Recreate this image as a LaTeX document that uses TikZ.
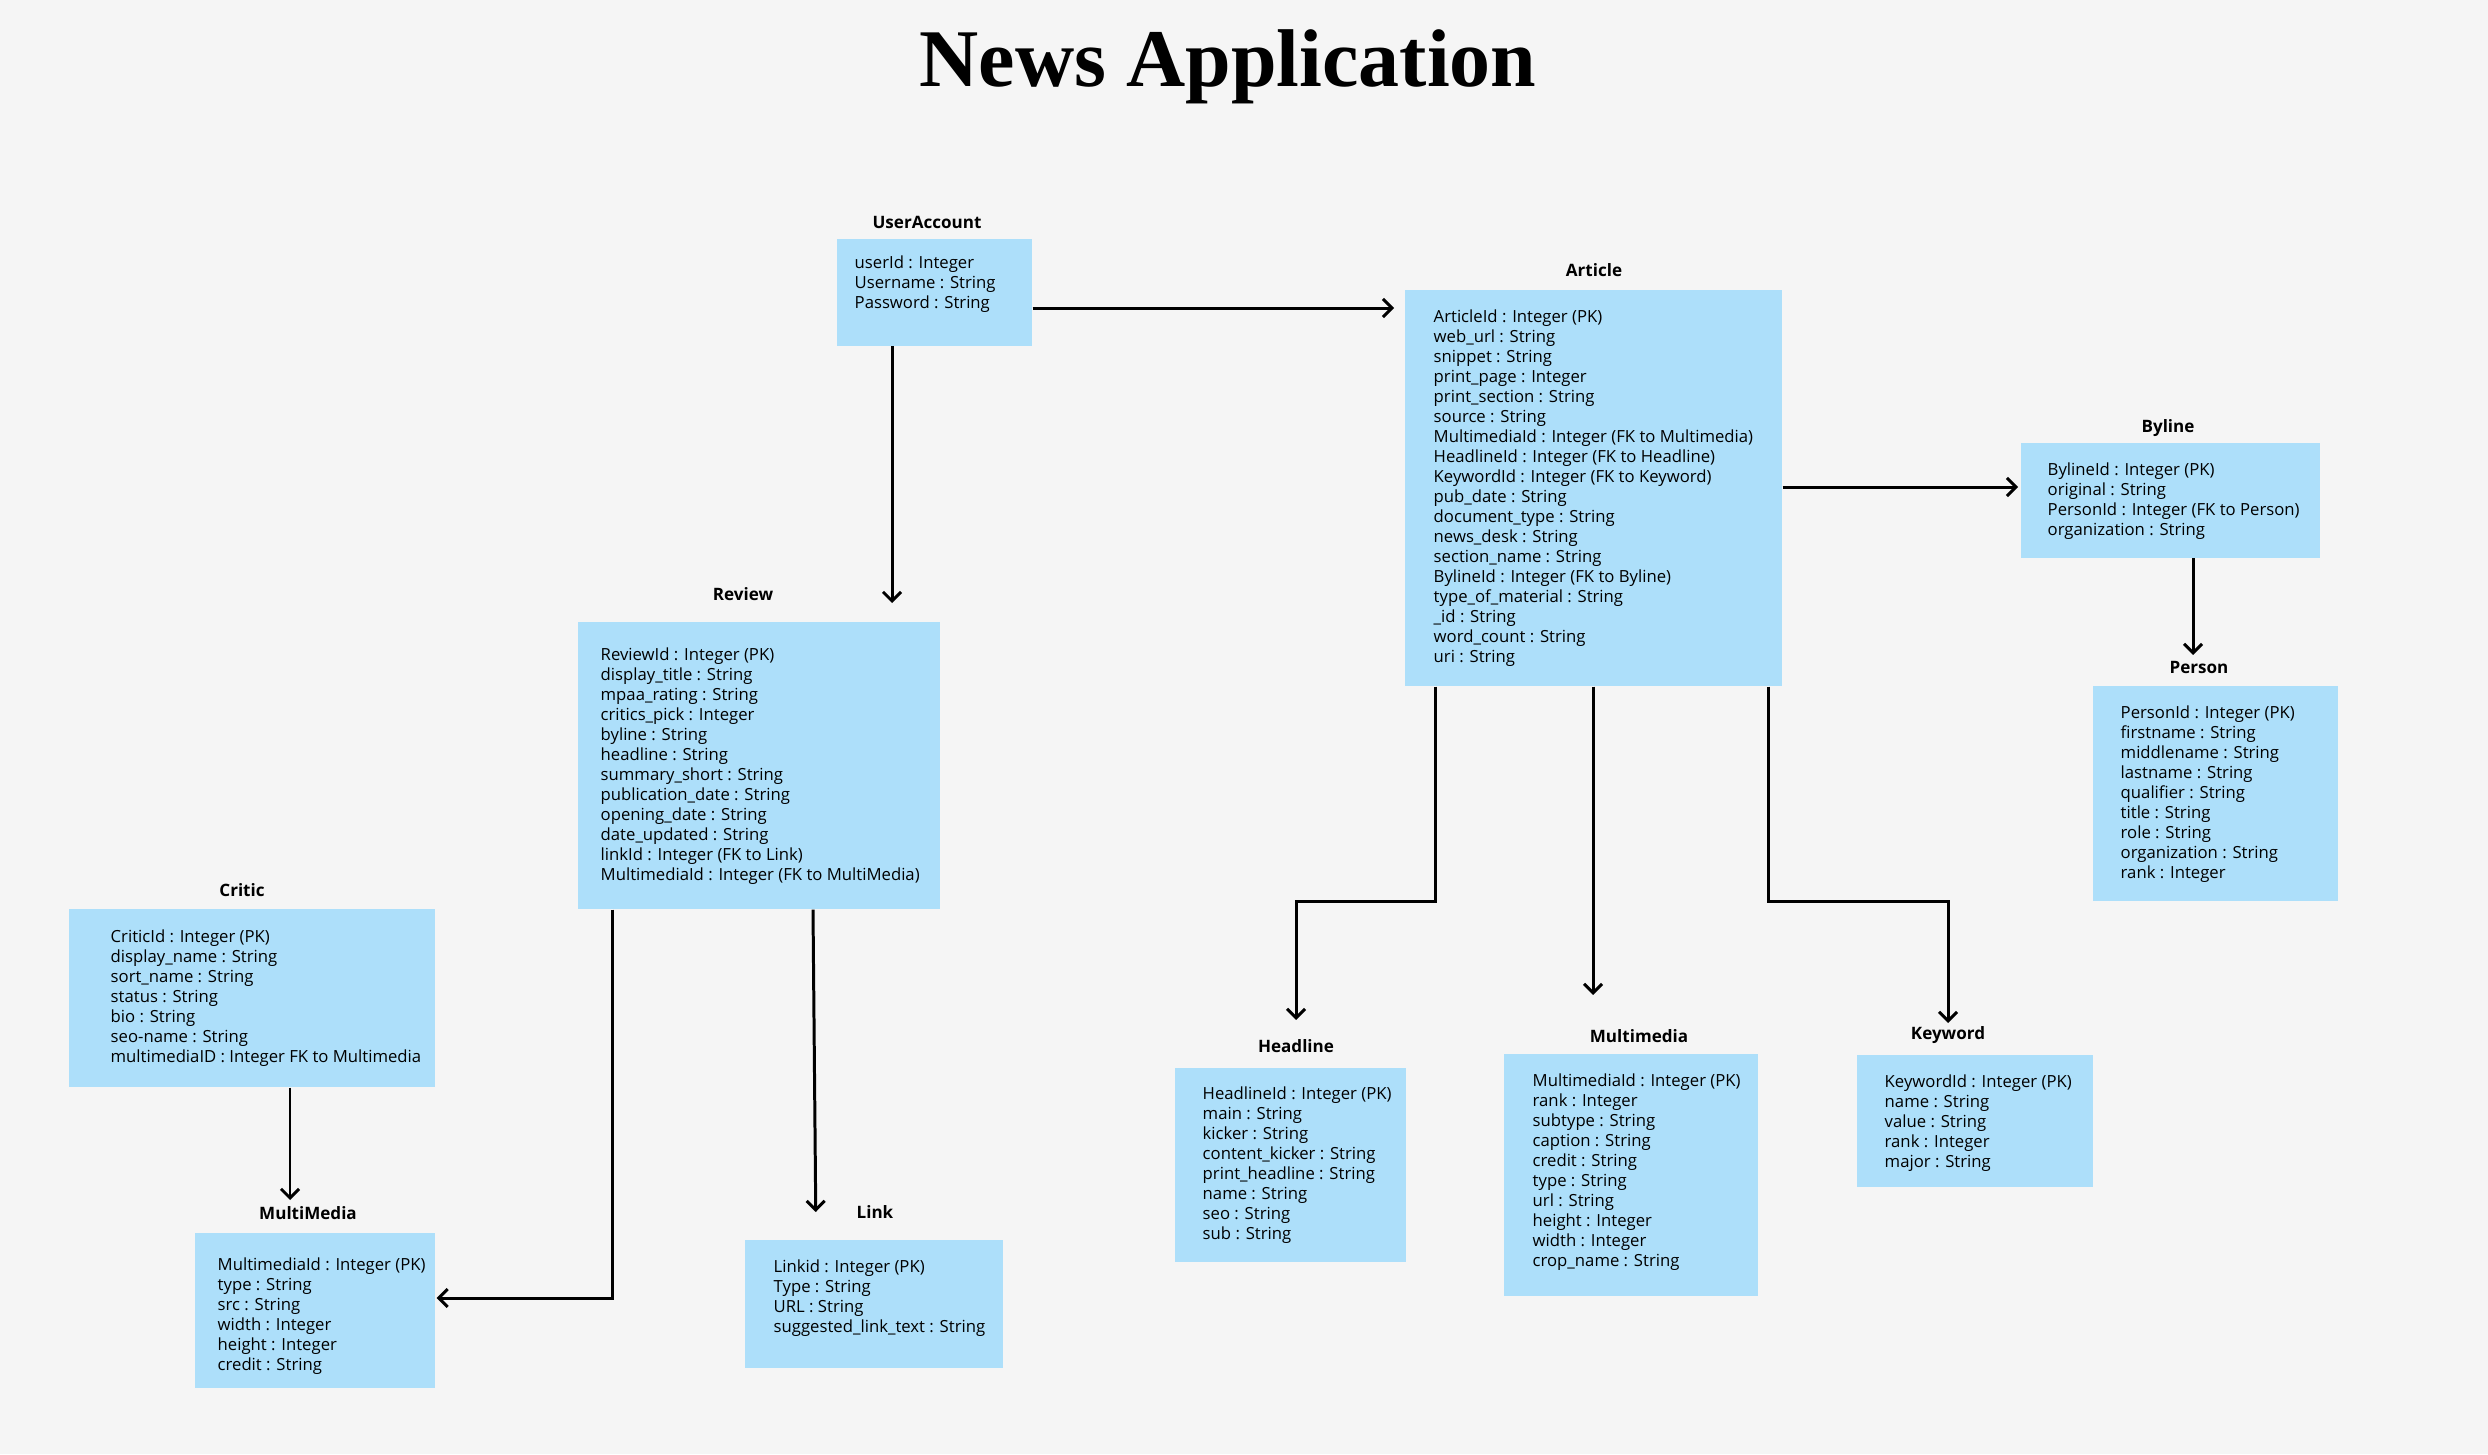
\documentclass[tikz,border=0pt]{standalone}
\usepackage{fontspec}
\setmainfont{Open Sans}
\newfontfamily\headfont{Liberation Serif}
\usetikzlibrary{arrows.meta}
\definecolor{paper}{RGB}{245,245,245}
\definecolor{tablefill}{RGB}{173,223,250}

\begin{document}
\begin{tikzpicture}[x=0.01cm, y=-0.01cm,
    entity/.style={fill=tablefill, anchor=north west, inner sep=0pt},
    tname/.style={font=\fontsize{4.85}{6}\selectfont\bfseries},
    attrs/.style={anchor=north west, inner sep=0pt, align=left, font=\fontsize{4.75}{5.69}\selectfont},
    rel/.style={line width=0.85pt, -{Straight Barb[length=0.9mm,width=1.8mm]}}]
        \fill[paper] (0,0) rectangle (2488,1454);
        \node[anchor=base, font=\headfont\bfseries\fontsize{23.3}{23.3}\selectfont] (title) at (1228,86) {News Application};

        % tables
        \node[entity, minimum width=1.95cm, minimum height=1.07cm] (user) at (836,238) {};
        \node[tname] (user-t) at (927,222) {UserAccount};
        \node[attrs] (user-a) at ([shift={(18,17)}]user.north west) {userId : Integer\\ Username : String\\ Password : String};

        \node[entity, minimum width=3.77cm, minimum height=3.96cm] (article) at (1404,289) {};
        \node[tname] (article-t) at (1594,270) {Article};
        \node[attrs] (article-a) at ([shift={(29,20)}]article.north west) {ArticleId : Integer (PK)\\ web\_url : String\\ snippet : String\\ print\_page : Integer\\ print\_section : String\\ source : String\\ MultimediaId : Integer (FK to Multimedia)\\ HeadlineId : Integer (FK to Headline)\\ KeywordId : Integer (FK to Keyword)\\ pub\_date : String\\ document\_type : String\\ news\_desk : String\\ section\_name : String\\ BylineId : Integer (FK to Byline)\\ type\_of\_material : String\\ \_id : String\\ word\_count : String\\ uri : String};

        \node[entity, minimum width=2.99cm, minimum height=1.15cm] (byline) at (2020,442) {};
        \node[tname] (byline-t) at (2168,428) {Byline};
        \node[attrs] (byline-a) at ([shift={(27,20)}]byline.north west) {BylineId : Integer (PK)\\ original : String\\ PersonId : Integer (FK to Person)\\ organization : String};

        \node[entity, minimum width=2.45cm, minimum height=2.15cm] (person) at (2092,685) {};
        \node[tname] (person-t) at (2199,667) {Person};
        \node[attrs] (person-a) at ([shift={(28,20)}]person.north west) {PersonId : Integer (PK)\\ firstname : String\\ middlename : String\\ lastname : String\\ qualifier : String\\ title : String\\ role : String\\ organization : String\\ rank : Integer};

        \node[entity, minimum width=3.62cm, minimum height=2.87cm] (review) at (577,621) {};
        \node[tname] (review-t) at (743,594) {Review};
        \node[attrs] (review-a) at ([shift={(23,26)}]review.north west) {ReviewId : Integer (PK)\\ display\_title : String\\ mpaa\_rating : String\\ critics\_pick : Integer\\ byline : String\\ headline : String\\ summary\_short : String\\ publication\_date : String\\ opening\_date : String\\ date\_updated : String\\ linkId : Integer (FK to Link)\\ MultimediaId : Integer (FK to MultiMedia)};

        \node[entity, minimum width=3.66cm, minimum height=1.78cm] (critic) at (68,908) {};
        \node[tname] (critic-t) at (242,890) {Critic};
        \node[attrs] (critic-a) at ([shift={(42,21)}]critic.north west) {CriticId : Integer (PK)\\ display\_name : String\\ sort\_name : String\\ status : String\\ bio : String\\ seo-name : String\\ multimediaID : Integer FK to Multimedia};

        \node[entity, minimum width=2.40cm, minimum height=1.55cm] (media) at (194,1232) {};
        \node[tname] (media-t) at (308,1213) {MultiMedia};
        \node[attrs] (media-a) at ([shift={(23,25)}]media.north west) {MultimediaId : Integer (PK)\\ type : String\\ src : String\\ width : Integer\\ height : Integer\\ credit : String};

        \node[entity, minimum width=2.58cm, minimum height=1.28cm] (link) at (744,1239) {};
        \node[tname] (link-t) at (875,1212) {Link};
        \node[attrs] (link-a) at ([shift={(29,20)}]link.north west) {Linkid : Integer (PK)\\ Type : String\\ URL : String\\ suggested\_link\_text : String};

        \node[entity, minimum width=2.31cm, minimum height=1.94cm] (headline) at (1174,1067) {};
        \node[tname] (headline-t) at (1296,1046) {Headline};
        \node[attrs] (headline-a) at ([shift={(28,19)}]headline.north west) {HeadlineId : Integer (PK)\\ main : String\\ kicker : String\\ content\_kicker : String\\ print\_headline : String\\ name : String\\ seo : String\\ sub : String};

        \node[entity, minimum width=2.54cm, minimum height=2.42cm] (multimedia) at (1503,1053) {};
        \node[tname] (multimedia-t) at (1639,1036) {Multimedia};
        \node[attrs] (multimedia-a) at ([shift={(29,20)}]multimedia.north west) {MultimediaId : Integer (PK)\\ rank : Integer\\ subtype : String\\ caption : String\\ credit : String\\ type : String\\ url : String\\ height : Integer\\ width : Integer\\ crop\_name : String};

        \node[entity, minimum width=2.36cm, minimum height=1.32cm] (keyword) at (1856,1054) {};
        \node[tname] (keyword-t) at (1948,1035) {Keyword};
        \node[attrs] (keyword-a) at ([shift={(28,20)}]keyword.north west) {KeywordId : Integer (PK)\\ name : String\\ value : String\\ rank : Integer\\ major : String};

        % relations
        \draw[rel, shorten >=0.1cm] (user.east |- 0,308) -- (article.west |- 0,308);
        \draw[rel, shorten >=0.18cm] (892,0 |- user.south) -- (892,0 |- review.north);
        \draw[rel, shorten >=0.02cm] (article.east |- 0,487) -- (byline.west |- 0,487);
        \draw[rel, shorten >=0.3cm] (2193,0 |- byline.south) -- (2193,0 |- person.north);
        \draw[rel, shorten >=0.47cm] (1435,0 |- article.south) -- (1435,901) -- (1296,901) -- (1296,0 |- headline.north);
        \draw[rel, shorten >=0.58cm] (1593,0 |- article.south) -- (1593,0 |- multimedia.north);
        \draw[rel, shorten >=0.31cm] (1768,0 |- article.south) -- (1768,901) -- (1948,901) -- (1948,0 |- keyword.north);
        \draw[rel, shorten >=0.01cm] (612,0 |- review.south) -- (612,1298) -- (media.east |- 0,1298);
        \draw[rel, shorten >=0.27cm] (813,0 |- review.south) -- (816,0 |- link.north);
        \draw[rel, shorten >=0.32cm] (290,0 |- critic.south) -- (290,0 |- media.north);
\end{tikzpicture}
\end{document}
